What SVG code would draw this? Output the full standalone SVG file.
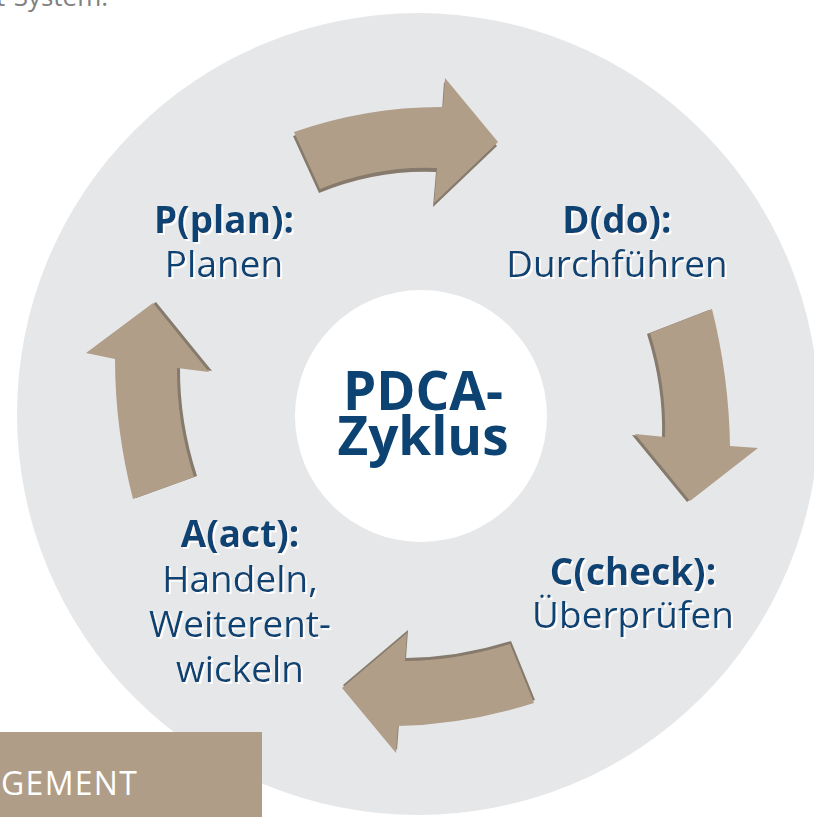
<svg xmlns="http://www.w3.org/2000/svg" width="814" height="817" viewBox="0 0 814 817">
  <defs>
    <filter id="glow" x="-10%" y="-20%" width="130%" height="150%">
      <feDropShadow dx="2" dy="2" stdDeviation="0.6" flood-color="#ffffff" flood-opacity="0.95"/>
    </filter>
    <style>
      .lbl { font-family: "Open Sans", "Noto Sans", sans-serif; fill: #0c4373; text-anchor: middle; font-size: 37px; filter: url(#glow); }
      .b { font-weight: 700; }
      .face { fill: #b09e89; }
      .shade { fill: #857a6c; }
      .center { font-family: "Open Sans", "Noto Sans", sans-serif; fill: #0c4373; text-anchor: middle; font-size: 53px; font-weight: 700; }
    </style>
  </defs>
  <rect x="0" y="0" width="814" height="817" fill="#ffffff"/>
  <text x="-4" y="6" font-family="Open Sans, Noto Sans, sans-serif" font-size="26" fill="#808080">t-System.</text>
  <circle cx="418" cy="414" r="401" fill="#e6e7e9"/>
  <rect x="0" y="732" width="262" height="85" fill="#b09d87"/>
  <text x="1" y="795" font-family="Open Sans, Noto Sans, sans-serif" font-size="32" letter-spacing="1.3" fill="#ffffff">GEMENT</text>

  <g id="center">
    <circle cx="421" cy="416" r="126" fill="#ffffff"/>
    <text class="center" x="423" y="410">PDCA-</text>
    <text class="center" x="423" y="455">Zyklus</text>
  </g>

  <g id="connectors">
    <g id="arrow-P-D">
      <path class="shade" transform="translate(-1,4)" d="M294,132 Q367.5,106.5 443,107 L445,78 L498,142 L434,203 L437,168 Q377.5,165.5 320,189 Z"/>
      <path class="face" d="M294,132 Q367.5,106.5 443,107 L445,78 L498,142 L434,203 L437,168 Q377.5,165.5 320,189 Z"/>
    </g>
    <g id="arrow-D-C">
      <path class="shade" transform="translate(-3,1)" d="M650,333 L712,309 Q729,377 730,446 L758,448 L690,501 L635,434 L665,437 Q666.5,385 650,333 Z"/>
      <path class="face" d="M650,333 L712,309 Q729,377 730,446 L758,448 L690,501 L635,434 L665,437 Q666.5,385 650,333 Z"/>
    </g>
    <g id="arrow-C-A">
      <path class="shade" transform="translate(1,-3)" d="M510,644 Q457.5,660.5 405,661 L407,633 L342,688 L396,753 L398,726 Q466,724.5 534,703 Z"/>
      <path class="face" d="M510,644 Q457.5,660.5 405,661 L407,633 L342,688 L396,753 L398,726 Q466,724.5 534,703 Z"/>
    </g>
    <g id="arrow-A-P">
      <path class="shade" transform="translate(3,-1)" d="M115,359 L86,353 L153,303 L209,372 L177,368 Q176.5,422.5 194,477 L133,499 Q115,429 115,359 Z"/>
      <path class="face" d="M115,359 L86,353 L153,303 L209,372 L177,368 Q176.5,422.5 194,477 L133,499 Q115,429 115,359 Z"/>
    </g>
  </g>

  <g id="node-P">
    <text class="lbl b" x="224" y="233">P(plan):</text>
    <text class="lbl" x="224" y="277">Planen</text>
  </g>
  <g id="node-D">
    <text class="lbl b" x="617" y="233">D(do):</text>
    <text class="lbl" x="617" y="277">Durchführen</text>
  </g>
  <g id="node-C">
    <text class="lbl b" x="633" y="585">C(check):</text>
    <text class="lbl" x="633" y="628">Überprüfen</text>
  </g>
  <g id="node-A">
    <text class="lbl b" x="240" y="547">A(act):</text>
    <text class="lbl" x="240" y="592">Handeln,</text>
    <text class="lbl" x="240" y="637">Weiterent-</text>
    <text class="lbl" x="240" y="682">wickeln</text>
  </g>
</svg>
